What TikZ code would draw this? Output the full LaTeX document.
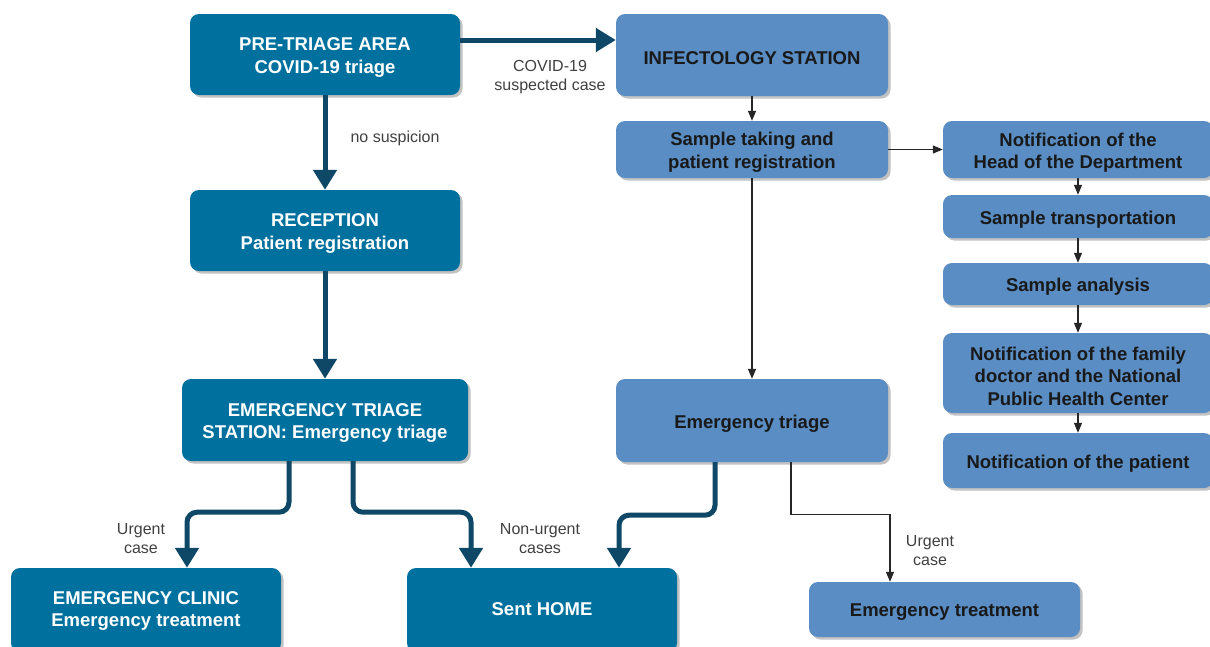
\documentclass[tikz,border=0pt]{standalone}
\usepackage{fontspec}
\setmainfont{Liberation Sans}
\usetikzlibrary{arrows.meta,shadows}
\definecolor{dark}{RGB}{0,113,158}
\definecolor{light}{RGB}{89,141,195}
\definecolor{arr}{RGB}{14,72,102}
\tikzset{
 box/.style={rounded corners=9pt, inner sep=0pt,
   drop shadow={shadow xshift=2.5pt, shadow yshift=-2.5pt, opacity=0.4, fill=black!60}},
 boxtext/.style={align=center, inner sep=0pt, yshift=-3pt,
   font=\fontsize{18.5}{22.5}\selectfont\bfseries},
 dbox/.style={box, fill=dark},
 lbox/.style={box, fill=light},
 dt/.style={label={[boxtext, text=white]center:{#1}}},
 lt/.style={label={[boxtext, text=black!90]center:{#1}}},
 big/.style={line width=5pt, draw=arr, -{Triangle[width=23pt,length=20pt]}},
 thin/.style={line width=1.2pt, draw=black!85, -{Triangle[width=8pt,length=10pt]}},
 lbl/.style={font=\fontsize{16}{19}\selectfont, text=black!75, align=center, yshift=-2.5pt},
}
\begin{document}
\begin{tikzpicture}[x=1pt,y=-1pt]
\useasboundingbox (0,0) rectangle (1210,646);
\clip (0,0) rectangle (1210,646);
% left column
\node[dbox, dt={PRE-TRIAGE AREA\\COVID-19 triage}, minimum width=270pt, minimum height=81pt] (pre) at (325,54.5) {};
\node[dbox, dt={RECEPTION\\Patient registration}, minimum width=270pt, minimum height=81pt] (recep) at (325,230.5) {};
\node[dbox, dt={EMERGENCY TRIAGE\\STATION: Emergency triage}, minimum width=286pt, minimum height=82pt] (est) at (325,420) {};
\node[dbox, minimum width=270pt, minimum height=84pt] (clinic) at (146,610) {};
\node[boxtext, text=white] (clinict) at (146,608) {EMERGENCY CLINIC\\Emergency treatment};
\node[dbox, minimum width=270pt, minimum height=84pt] (home) at (542,610) {};
\node[boxtext, text=white] (homet) at (542,606) {Sent HOME};
% middle column
\node[lbox, lt={INFECTOLOGY STATION}, minimum width=272pt, minimum height=82pt] (infect) at (752,55) {};
\node[lbox, lt={Sample taking and\\patient registration}, minimum width=272pt, minimum height=57pt] (sample) at (752,149.5) {};
\node[lbox, lt={Emergency triage}, minimum width=272pt, minimum height=83pt] (etriage) at (752,420.5) {};
\node[lbox, lt={Emergency treatment}, minimum width=271pt, minimum height=55pt] (etreat) at (944.5,609.5) {};
% right column
\node[lbox, lt={Notification of the\\Head of the Department}, minimum width=270pt, minimum height=57pt] (nhead) at (1078,149.5) {};
\node[lbox, lt={Sample transportation}, minimum width=270pt, minimum height=43pt] (ntrans) at (1078,216.5) {};
\node[lbox, lt={Sample analysis}, minimum width=270pt, minimum height=42pt] (nanal) at (1078,284) {};
\node[lbox, lt={Notification of the family\\doctor and the National\\Public Health Center}, minimum width=270pt, minimum height=80pt] (nfam) at (1078,373) {};
\node[lbox, lt={Notification of the patient}, minimum width=270pt, minimum height=55pt] (npat) at (1078,460.5) {};
% labels
\node[lbl] (l1) at (395,136) {no suspicion};
\node[lbl] (l2) at (550,74.5) {COVID-19\\suspected case};
\node[lbl] (l3) at (141,536) {Urgent\\case};
\node[lbl] (l4) at (540,536) {Non-urgent\\cases};
\node[lbl] (l5) at (930,548.5) {Urgent\\case};
% thick connectors
\draw[big] ([yshift=14.5pt]pre.east) -- ([yshift=14.5pt]pre.east -| infect.west);
\draw[big] (pre.south) -- (recep.north);
\draw[big] (recep.south) -- (est.north);
\draw[big, rounded corners=10pt] ([xshift=-36pt]est.south) -- ++(0,51) -| ([xshift=41pt]clinic.north);
\draw[big, rounded corners=10pt] ([xshift=28pt]est.south) -- ++(0,51) -| ([xshift=-71pt]home.north);
\draw[big, rounded corners=10pt] ([xshift=-37pt]etriage.south) -- ++(0,53) -| ([xshift=77pt]home.north);
% thin connectors
\draw[thin] (infect.south) -- (sample.north);
\draw[thin] (sample.south) -- (etriage.north);
\draw[thin] (sample.east) -- (nhead.west);
\draw[thin] ([xshift=39pt]etriage.south) -- ++(0,52) -| ([xshift=-54.5pt]etreat.north);
\draw[thin] (nhead.south) -- (ntrans.north);
\draw[thin] (ntrans.south) -- (nanal.north);
\draw[thin] (nanal.south) -- (nfam.north);
\draw[thin] (nfam.south) -- (npat.north);
\end{tikzpicture}
\end{document}
